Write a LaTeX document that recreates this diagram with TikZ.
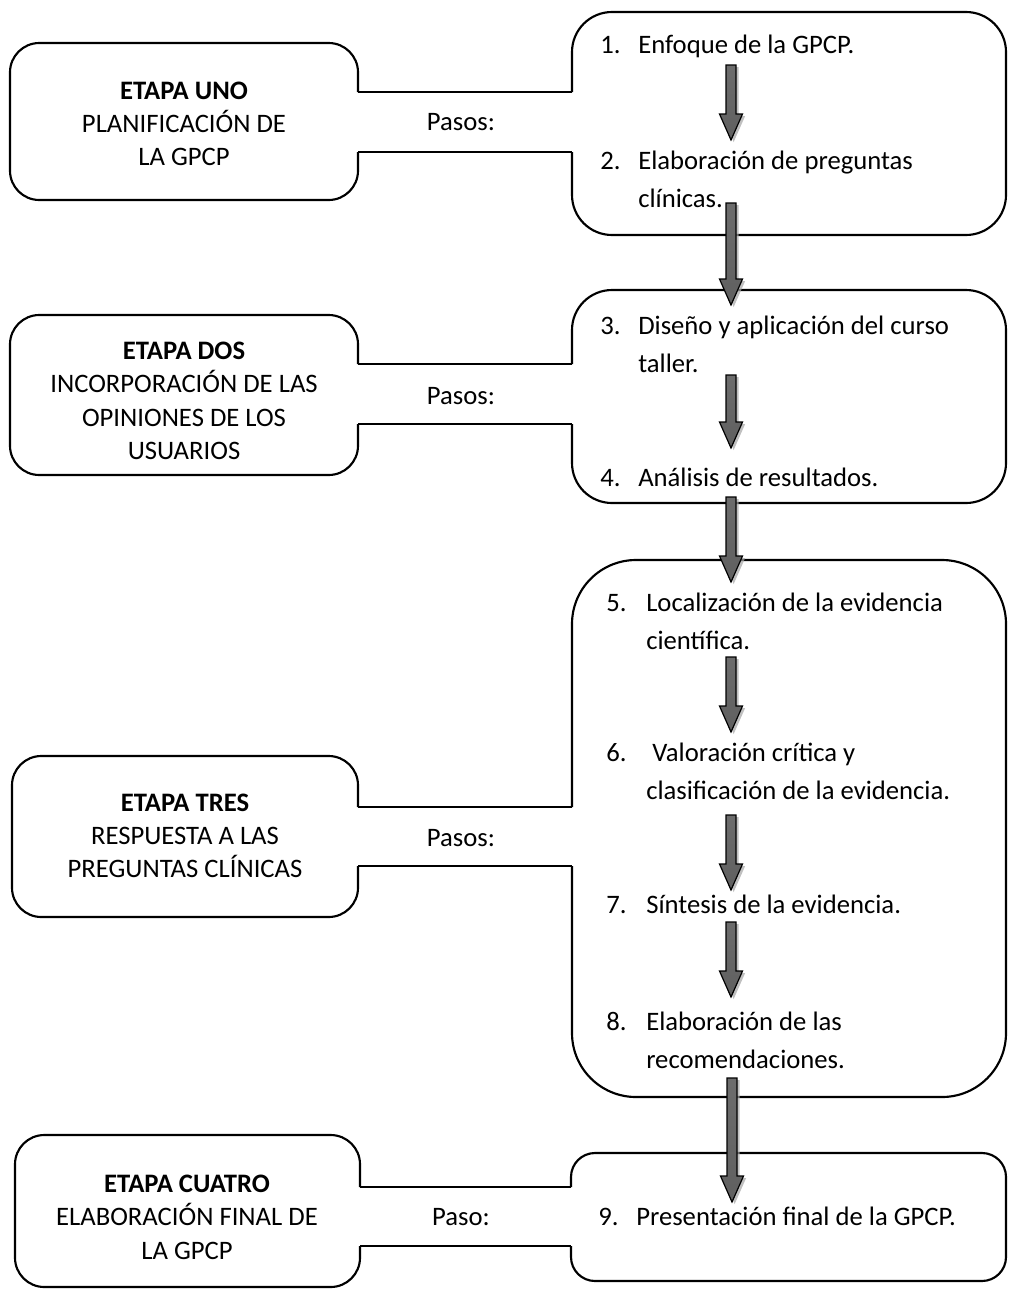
\documentclass[tikz,border=0pt]{standalone}
\usepackage{fontspec}
\setmainfont{Carlito}
\usetikzlibrary{calc,shadows}

\tikzset{
  outline/.style={draw=black, line width=1.6pt},
  txt/.style={inner sep=0pt, font=\fontsize{20}{25}\selectfont},
  item/.style={txt, anchor=base west},
  stagetxt/.style={txt, align=center},
  arrowbody/.style={draw=black, line width=0.9pt,
    top color=gray!85!black, middle color=black, bottom color=gray!75!black,
    drop shadow={shadow xshift=2pt, shadow yshift=-1.5pt, fill=gray!70, opacity=.7}},
}

% block arrow from a start coordinate down to a tip coordinate (y grows downwards)
\newcommand\flowarrow[2]{%
  \path[arrowbody]
    ($(#1)+(-5,0)$) -- ($(#1)+(5,0)$) -- ($(#2)+(5,-26)$) -- ($(#2)+(11.5,-26)$)
    -- (#2) -- ($(#2)+(-11.5,-26)$) -- ($(#2)+(-5,-26)$) -- cycle;}

\begin{document}
\begin{tikzpicture}[x=0.75pt, y=-0.75pt]
\useasboundingbox[fill=white] (0,0) rectangle (1010,1289);

% ---------- junction points between stage boxes and step boxes ----------
\coordinate (L1t) at (358,92);   \coordinate (R1t) at (572,92);
\coordinate (L1b) at (358,152);  \coordinate (R1b) at (572,152);
\coordinate (L2t) at (358,364);  \coordinate (R2t) at (572,364);
\coordinate (L2b) at (358,424);  \coordinate (R2b) at (572,424);
\coordinate (L3t) at (358,807);  \coordinate (R3t) at (572,807);
\coordinate (L3b) at (358,866);  \coordinate (R3b) at (572,866);
\coordinate (L4t) at (360,1187); \coordinate (R4t) at (571,1187);
\coordinate (L4b) at (360,1246); \coordinate (R4b) at (571,1246);

% ---------- stage boxes (open on the right) ----------
\draw[outline, rounded corners=22] (L1t) -- (358,43) -- (10,43) -- (10,200) -- (358,200) -- (L1b);
\draw[outline, rounded corners=22] (L2t) -- (358,315) -- (10,315) -- (10,475) -- (358,475) -- (L2b);
\draw[outline, rounded corners=22] (L3t) -- (358,756) -- (12,756) -- (12,917) -- (358,917) -- (L3b);
\draw[outline, rounded corners=22] (L4t) -- (360,1135) -- (15,1135) -- (15,1287) -- (360,1287) -- (L4b);

% ---------- step boxes (open on the left) ----------
\draw[outline, rounded corners=30] (R1t) -- (572,12) -- (1006,12) -- (1006,235) -- (572,235) -- (R1b);
\draw[outline, rounded corners=30] (R2t) -- (572,290) -- (1006,290) -- (1006,503) -- (572,503) -- (R2b);
\draw[outline, rounded corners=48] (R3t) -- (572,560) -- (1006,560) -- (1006,1097) -- (572,1097) -- (R3b);
\draw[outline, rounded corners=18] (R4t) -- (571,1153) -- (1006,1153) -- (1006,1281) -- (571,1281) -- (R4b);

% ---------- corridors ----------
\draw[outline] (L1t) -- (R1t);  \draw[outline] (L1b) -- (R1b);
\draw[outline] (L2t) -- (R2t);  \draw[outline] (L2b) -- (R2b);
\draw[outline] (L3t) -- (R3t);  \draw[outline] (L3b) -- (R3b);
\draw[outline] (L4t) -- (R4t);  \draw[outline] (L4b) -- (R4b);

% ---------- stage texts ----------
\node[stagetxt] (st1) at (184,124) {\textbf{ETAPA UNO}\\PLANIFICACIÓN DE\\LA GPCP};
\node[stagetxt] (st2) at (184,401) {\textbf{ETAPA DOS}\\INCORPORACIÓN DE LAS\\OPINIONES DE LOS\\USUARIOS};
\node[stagetxt] (st3) at (185,836) {\textbf{ETAPA TRES}\\RESPUESTA A LAS\\PREGUNTAS CLÍNICAS};
\node[stagetxt] (st4) at (187,1217) {\textbf{ETAPA CUATRO}\\ELABORACIÓN FINAL DE\\LA GPCP};

\node[txt] (p1) at (461,122) {Pasos:};
\node[txt] (p2) at (461,396) {Pasos:};
\node[txt] (p3) at (461,838) {Pasos:};
\node[txt] (p4) at (461,1217) {Paso:};

% ---------- steps ----------
\node[item] (n1) at (600,53) {1.};   \node[item] (s1) at (638,53) {Enfoque de la GPCP.};
\node[item] (n2) at (600,169) {2.};  \node[item] (s2) at (638,169) {Elaboración de preguntas};
\node[item] (s2b) at (638,207) {clínicas.};
\node[item] (n3) at (600,334) {3.};  \node[item] (s3) at (638,334) {Diseño y aplicación del curso};
\node[item] (s3b) at (638,372) {taller.};
\node[item] (n4) at (600,486) {4.};  \node[item] (s4) at (638,486) {Análisis de resultados.};
\node[item] (n5) at (606,611) {5.};  \node[item] (s5) at (646,611) {Localización de la evidencia};
\node[item] (s5b) at (646,649) {científica.};
\node[item] (n6) at (606,761) {6.};  \node[item] (s6) at (652,761) {Valoración crítica y};
\node[item] (s6b) at (646,799) {clasificación de la evidencia.};
\node[item] (n7) at (606,913) {7.};  \node[item] (s7) at (646,913) {Síntesis de la evidencia.};
\node[item] (n8) at (606,1030) {8.}; \node[item] (s8) at (646,1030) {Elaboración de las};
\node[item] (s8b) at (646,1068) {recomendaciones.};
\node[item] (n9) at (598,1225) {9.}; \node[item] (s9) at (636,1225) {Presentación final de la GPCP.};

% ---------- flow arrows ----------
\coordinate (a1s) at (731,65);   \coordinate (a1e) at (731,140);
\coordinate (a2s) at (731,203);  \coordinate (a2e) at (731,305);
\coordinate (a3s) at (731,375);  \coordinate (a3e) at (731,448);
\coordinate (a4s) at (731,497);  \coordinate (a4e) at (731,582);
\coordinate (a5s) at (731,657);  \coordinate (a5e) at (731,732);
\coordinate (a6s) at (731,815);  \coordinate (a6e) at (731,890);
\coordinate (a7s) at (731,922);  \coordinate (a7e) at (731,997);
\coordinate (a8s) at (732,1078); \coordinate (a8e) at (732,1202);
\flowarrow{a1s}{a1e}
\flowarrow{a2s}{a2e}
\flowarrow{a3s}{a3e}
\flowarrow{a4s}{a4e}
\flowarrow{a5s}{a5e}
\flowarrow{a6s}{a6e}
\flowarrow{a7s}{a7e}
\flowarrow{a8s}{a8e}
\end{tikzpicture}
\end{document}
